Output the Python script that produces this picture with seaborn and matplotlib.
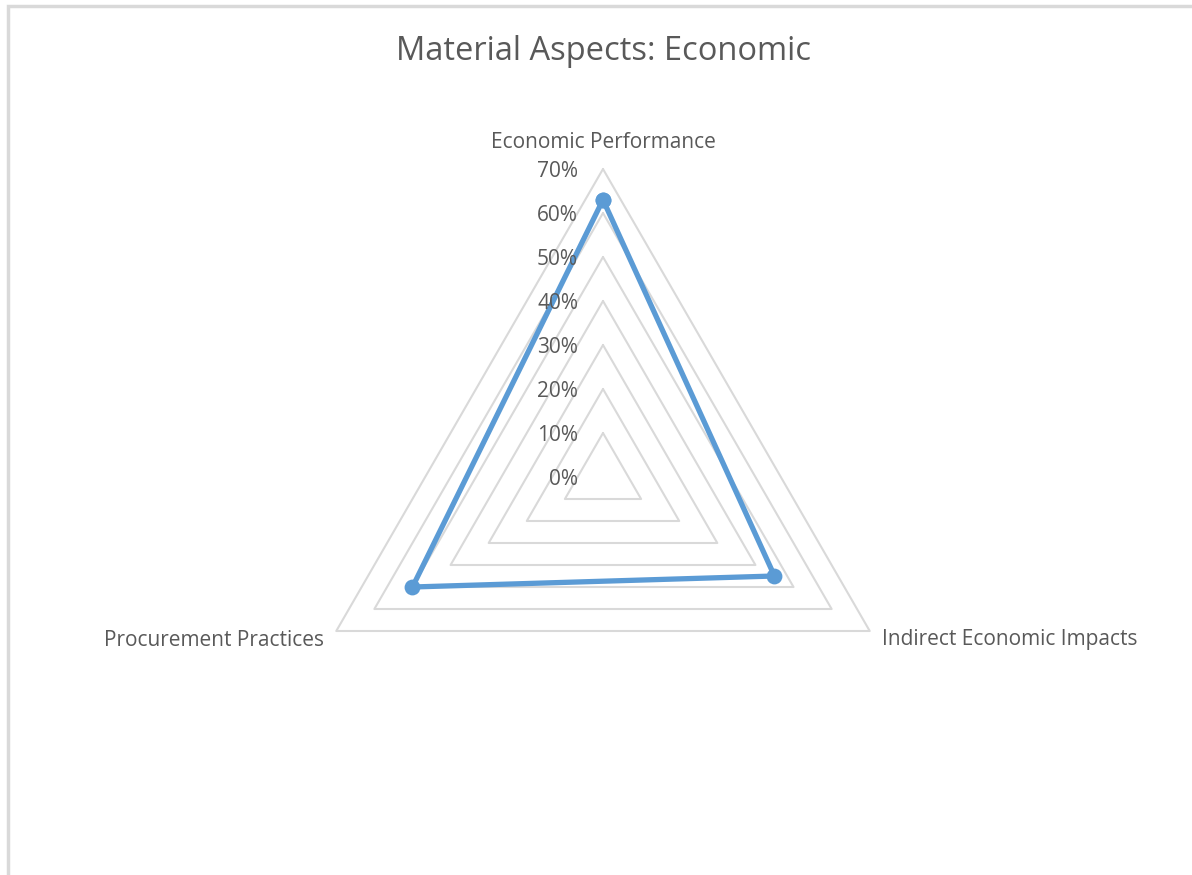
import numpy as np
import pandas as pd
import matplotlib as mpl
mpl.use('Agg')
import matplotlib.pyplot as plt
import seaborn as sns

# data
categories = ['Economic Performance', 'Indirect Economic Impacts', 'Procurement Practices']
values = [63, 45, 50]  # percent
levels = [0, 10, 20, 30, 40, 50, 60, 70]
level_labels = ['0%', '10%', '20%', '30%', '40%', '50%', '60%', '70%']
title = 'Material Aspects: Economic'

sns.set_style('white')
plt.rcParams['font.family'] = ['Open Sans', 'DejaVu Sans']

text_col = '#595959'
grid_col = '#D9D9D9'
line_col = '#5B9BD5'

W, H, dpi = 1192, 875, 100
fig = plt.figure(figsize=(W / dpi, H / dpi), dpi=dpi)
ax = fig.add_axes([0, 0, 1, 1])

# chart centre in pixels and scale (px per 1%)
cx, cy, scale = 603, 477, 4.4
ax.set_xlim(-cx / scale, (W - cx) / scale)
ax.set_ylim(-(H - cy) / scale, cy / scale)
ax.axis('off')

# angles: first axis at the top, then clockwise
angles = np.deg2rad(90 - np.arange(len(categories)) * 360 / len(categories))

# grid triangles
for lv in levels[1:]:
    gx = np.append(lv * np.cos(angles), lv * np.cos(angles[0]))
    gy = np.append(lv * np.sin(angles), lv * np.sin(angles[0]))
    ax.plot(gx, gy, color=grid_col, lw=1.5, zorder=1)

# series (closed polygon)
df = pd.DataFrame({
    'x': np.append(np.array(values) * np.cos(angles), values[0] * np.cos(angles[0])),
    'y': np.append(np.array(values) * np.sin(angles), values[0] * np.sin(angles[0])),
})
sns.lineplot(data=df, x='x', y='y', sort=False, estimator=None, ax=ax, color=line_col, lw=3.8,
             zorder=3)
sns.scatterplot(data=df, x='x', y='y', ax=ax, color=line_col, s=130, linewidth=0, zorder=4)
ax.set_xlabel('')
ax.set_ylabel('')

# radial tick labels
for lv, lab in zip(levels, level_labels):
    ax.text(-25 / scale, lv - 2.5 / scale, lab, ha='right', va='center', fontsize=15, color=text_col)

# category labels
rmax = levels[-1]
ax.text(0, rmax + 27 / scale, categories[0], ha='center', va='center', fontsize=15, color=text_col)
ax.text(rmax * np.cos(angles[1]) + 12 / scale, rmax * np.sin(angles[1]) - 9 / scale, categories[1],
        ha='left', va='center', fontsize=15, color=text_col)
ax.text(rmax * np.cos(angles[2]) - 12 / scale, rmax * np.sin(angles[2]) - 9 / scale, categories[2],
        ha='right', va='center', fontsize=15, color=text_col)

fig.text(cx / W, 1 - 51 / H, title, ha='center', va='center', fontsize=23.5, color=text_col)

# chart area border
fig.patches.append(mpl.patches.Rectangle((8 / W, -0.1), 1.2, 1 - 6 / H + 0.1, transform=fig.transFigure,
                                         fill=False, ec=grid_col, lw=2.5))

fig.savefig('out.png', dpi=dpi, facecolor='white')
